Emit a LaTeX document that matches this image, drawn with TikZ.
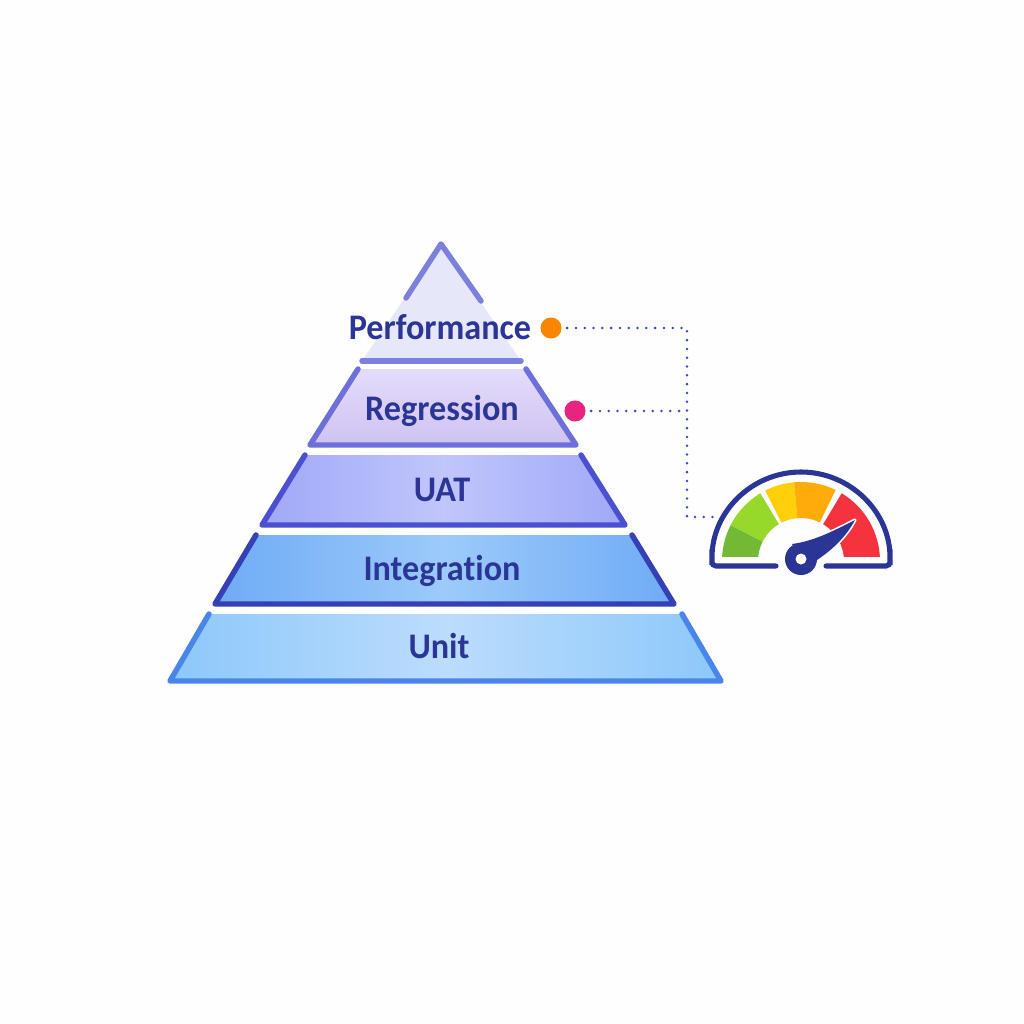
\documentclass[tikz,border=0pt]{standalone}
\usepackage{fontspec}
\setmainfont[Ligatures=NoCommon,FakeStretch=0.95]{Carlito}
\definecolor{inkblue}{HTML}{2A3596}
\definecolor{dotblue}{HTML}{3F48B8}
\definecolor{unitside}{HTML}{8CC8FA}
\definecolor{unitmid}{HTML}{BCDCFC}
\definecolor{unitline}{HTML}{4A86EA}
\definecolor{intside}{HTML}{6FABF5}
\definecolor{intmid}{HTML}{9CCAFA}
\definecolor{intline}{HTML}{3540B5}
\definecolor{uatside}{HTML}{A0A8F8}
\definecolor{uatmid}{HTML}{C0C6FB}
\definecolor{uatline}{HTML}{4A50CF}
\definecolor{regtop}{HTML}{E3DCFA}
\definecolor{regbottom}{HTML}{CFC2F2}
\definecolor{regline}{HTML}{6D70D8}
\definecolor{perffill}{HTML}{E6E8FA}
\definecolor{perfline}{HTML}{7B80DC}
\definecolor{perfdotcol}{HTML}{FA8500}
\definecolor{regdotcol}{HTML}{E8247E}
\definecolor{gaugedark}{HTML}{74B936}
\definecolor{gaugelime}{HTML}{96D92A}
\definecolor{gaugeyellow}{HTML}{FFCF0A}
\definecolor{gaugeorange}{HTML}{FFAB0A}
\definecolor{gaugered}{HTML}{F5333F}
\newcommand{\gaugeseg}[3]{\fill[#3,shift={(801,561)},yscale=-1] (#1:79) arc (#1:#2:79) -- (#2:43) arc (#2:#1:43) -- cycle;}
\tikzset{
  tierlabel/.style={text=inkblue,inner sep=0pt,anchor=base,font=\fontsize{27}{32}\selectfont\bfseries},
  tierline/.style={line width=4.1pt,line join=round,line cap=round},
  linkdots/.style={dotblue,line width=2.1pt,line cap=round,dash pattern=on 0pt off 6.6pt},
  markdot/.style={circle,inner sep=0pt,minimum size=15.8pt}
}
\begin{document}
\begin{tikzpicture}[x=0.75pt,y=0.75pt,yscale=-1,xscale=1]
    \useasboundingbox (0,0) rectangle (1024,1024);
    \fill[white!99.5!black] (0,0) rectangle (1024,1024);

    % Unit
    \shade[left color=unitside,right color=unitside,middle color=unitmid] (209,614) -- (170,681) -- (721,681) -- (682,614) -- cycle;
    \draw[tierline,color=unitline] (209,614) -- (170,681) -- (721,681) -- (682,614);
    % Integration
    \shade[left color=intside,right color=intside,middle color=intmid] (256,535) -- (215,604) -- (674,604) -- (632,535) -- cycle;
    \draw[tierline,color=intline] (256,535) -- (215,604) -- (674,604) -- (632,535);
    % UAT
    \shade[left color=uatside,right color=uatside,middle color=uatmid] (305,455) -- (262,525) -- (625,525) -- (581,455) -- cycle;
    \draw[tierline,color=uatline] (305,455) -- (262,525) -- (625,525) -- (581,455);
    % Regression
    \shade[top color=regtop,bottom color=regbottom] (358,369) -- (310,445) -- (576,445) -- (526,369) -- cycle;
    \draw[tierline,color=regline] (358,369) -- (310,445) -- (576,445) -- (526,369);
    % Performance
    \fill[perffill] (441,244) -- (362,361) -- (521,361) -- cycle;
    \draw[tierline,color=perfline] (406,298) -- (441,244) -- (481,301);
    \draw[tierline,color=perfline] (362,361) -- (521,361);

    % Text Node
    \node[tierlabel] (perflabel) at (440,339) {Performance};
    \node[tierlabel] (reglabel) at (442,420) {Regression};
    \node[tierlabel] (uatlabel) at (442,501) {UAT};
    \node[tierlabel] (intlabel) at (442,580) {Integration};
    \node[tierlabel] (unitlabel) at (439,658) {Unit};

    % Dots and links
    \node[markdot,fill=perfdotcol] (perfdot) at (551,328) {};
    \node[markdot,fill=regdotcol] (regdot) at (575,411) {};
    \coordinate (perfbend) at (687,328);
    \coordinate (regbend) at (687,411);
    \coordinate (gaugein) at (714,517);
    \draw[linkdots,shorten <=4pt] (perfdot) -- (perfbend) -- (perfbend |- gaugein) -- (gaugein);
    \draw[linkdots,shorten <=4pt] (regdot) -- (regbend);

    % Gauge
    \begin{scope}
      \clip (700,470) rectangle (900,556);
      \gaugeseg{153}{180}{gaugedark}
      \gaugeseg{121}{153}{gaugelime}
      \gaugeseg{95}{117}{gaugeyellow}
      \gaugeseg{64}{95}{gaugeorange}
      \gaugeseg{0}{59}{gaugered}
    \end{scope}
    \draw[inkblue,line width=3.8pt,line cap=round,rounded corners=3] (776,566) -- (712,566) -- (712,561) arc[start angle=180,end angle=360,radius=89] -- (890,566) -- (826,566);
    % Needle
    \path[fill=inkblue,draw=white,line width=2.4pt,line join=round] (792,544) .. controls (815,541) and (835,530) .. (855,520) .. controls (846,537) and (832,550) .. (817,560) -- (801,557) -- cycle;
    \fill[inkblue] (801,559) circle (16);
    \fill[inkblue] (792,544) .. controls (815,541) and (835,530) .. (855,520) .. controls (846,537) and (832,550) .. (817,560) -- (801,559) -- cycle;
    \fill[white] (801,559) circle (5.5);
\end{tikzpicture}
\end{document}
